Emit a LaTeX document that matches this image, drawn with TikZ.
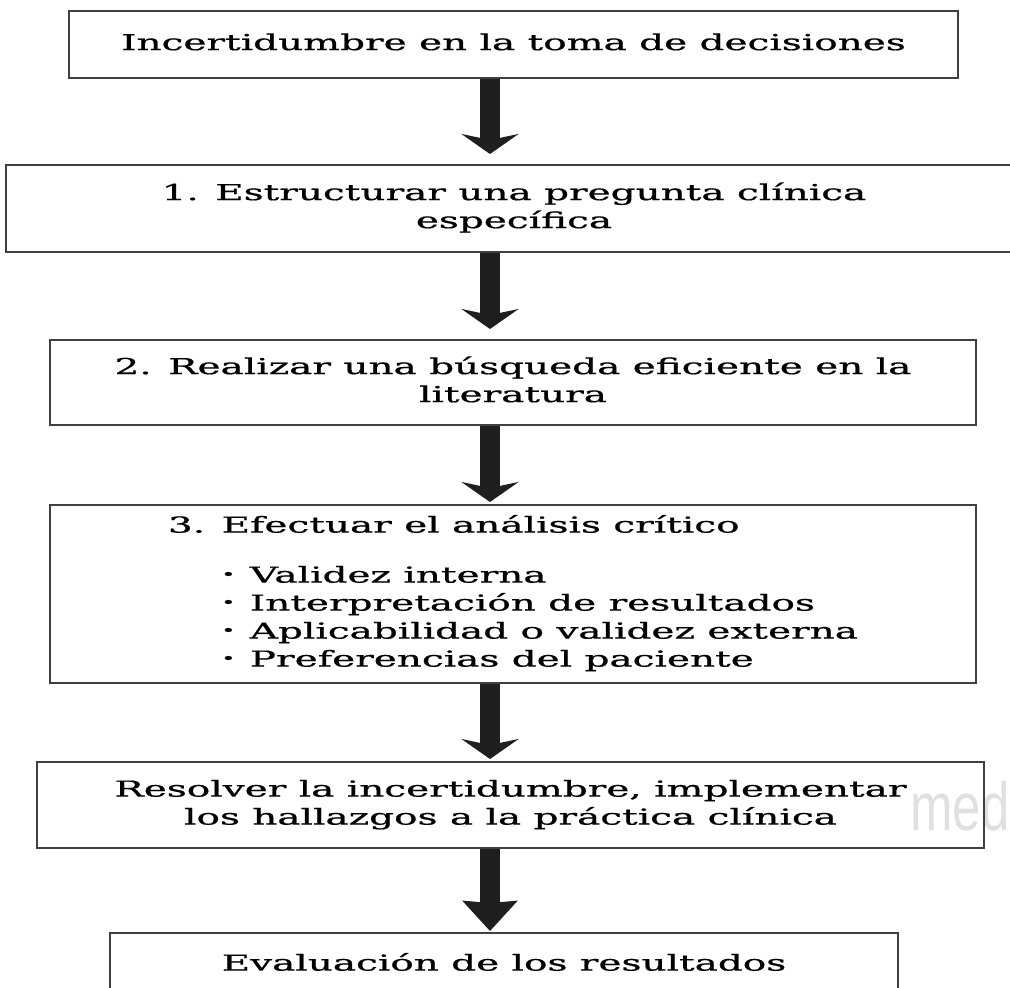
\documentclass[tikz,border=0pt]{standalone}
\usepackage{fontspec}
\setmainfont{DejaVu Serif}[FakeBold=0.6]
\setsansfont{Liberation Sans}
\usepackage{graphicx}
\usetikzlibrary{arrows.meta}

% the printed figure is stretched sideways
\newcommand{\wide}[1]{\scalebox{1.77}[1]{\begin{tabular}{@{}c@{}}#1\end{tabular}}}
\newcommand{\wideleft}[1]{\scalebox{1.77}[1]{\begin{tabular}{@{}l@{}}#1\end{tabular}}}
\newcommand{\itm}{\hspace*{15pt}\raisebox{.3ex}{\scriptsize •}\hspace{4pt}}

\tikzstyle{block}=[rectangle,draw=black!75,line width=1pt,align=center,inner sep=0pt,font=\fontsize{11}{14}\selectfont]
\tikzstyle{flow}=[line width=10pt,draw=black!88,-{Stealth[length=10pt,width=28.5pt,inset=3pt]}]

\begin{document}
\begin{tikzpicture}[x=0.5pt,y=-0.5pt]
	\useasboundingbox (0,0) rectangle (1010,987);

	% watermark
	\node[anchor=base west,inner sep=0pt,text=black!12,font=\sffamily\fontsize{34}{34}\selectfont] (mark) at (910,830) {\scalebox{0.75}[1]{med}};

	% Steps
	\node[block,minimum width=444.5pt,minimum height=33.5pt] (incert) at (513.5,44.5) {\wide{Incertidumbre en la toma de decisiones}};
	\node[block,minimum width=508pt,minimum height=43.5pt] (pregunta) at (514,208.5) {\wide{1. Estructurar una pregunta clínica\\específica}};
	\node[block,minimum width=463pt,minimum height=42.5pt] (busqueda) at (513,382.5) {\wide{2. Realizar una búsqueda eficiente en la\\literatura}};
	\node[block,minimum width=463pt,minimum height=89pt] (analisis) at (513,594) {\wideleft{3. Efectuar el análisis crítico\\[11pt]
		\itm Validez interna\\
		\itm Interpretación de resultados\\
		\itm Aplicabilidad o validez externa\\
		\itm Preferencias del paciente}};
	\node[block,minimum width=473.5pt,minimum height=43pt] (resolver) at (510.5,805) {\wide{Resolver la incertidumbre, implementar\\los hallazgos a la práctica clínica}};
	\node[block,minimum width=394pt,minimum height=32pt] (evaluacion) at (504,965) {\wide{Evaluación de los resultados}};

	% Arrows
	\coordinate (axis) at (490,0);
	\draw[flow,shorten >=5pt] (incert.south -| axis) -- (pregunta.north -| axis);
	\draw[flow,shorten >=5pt] (pregunta.south -| axis) -- (busqueda.north -| axis);
	\draw[flow,shorten >=1pt] (busqueda.south -| axis) -- (analisis.north -| axis);
	\draw[flow,shorten >=1pt] (analisis.south -| axis) -- (resolver.north -| axis);
	\draw[flow,-{Stealth[length=15pt,width=27pt,inset=1pt]},shorten >=0.5pt] (resolver.south -| axis) -- (evaluacion.north -| axis);
\end{tikzpicture}
\end{document}
